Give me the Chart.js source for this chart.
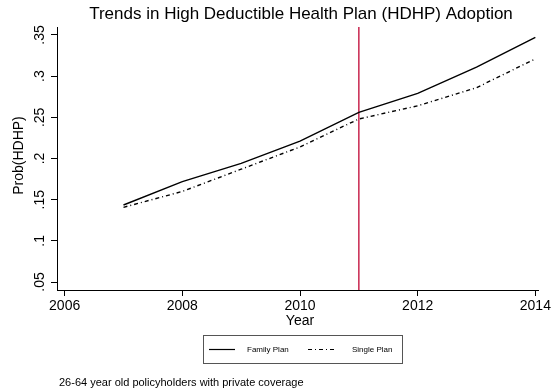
<!DOCTYPE html>
<html>
<head>
<meta charset="utf-8">
<script src="https://cdn.jsdelivr.net/npm/chart.js@4.4.1/dist/chart.umd.min.js"></script>
<style>
  html, body { margin: 0; padding: 0; background: #ffffff; }
  #wrap { width: 553px; height: 392px; }
</style>
</head>
<body>
<div id="wrap"><canvas id="c" width="553" height="392"></canvas></div>
<script>
// Survey years and predicted probability of holding an HDHP
const years = [2007, 2008, 2009, 2010, 2011, 2012, 2013, 2014];
const familyPlan = [0.1435, 0.172, 0.194, 0.221, 0.256, 0.279, 0.311, 0.347];
const singlePlan = [0.1407, 0.160, 0.187, 0.214, 0.248, 0.264, 0.286, 0.321];

// Axis ticks
const xTicks = [2006, 2008, 2010, 2012, 2014];
const yTicks = [0.05, 0.10, 0.15, 0.20, 0.25, 0.30, 0.35];
const yTickLabels = ['.05', '.1', '.15', '.2', '.25', '.3', '.35'];

// Policy change year (vertical reference line)
const policyYear = 2011;

const chartTitle = 'Trends in High Deductible Health Plan (HDHP) Adoption';
const xTitle = 'Year';
const yTitle = 'Prob(HDHP)';
const seriesNames = ['Family Plan', 'Single Plan'];
const note = '26-64 year old policyholders with private coverage';

const FONT = '"Liberation Sans", Arial, Helvetica, sans-serif';
const SINGLE_DASH = [4, 3, 1, 3];

const toPoints = (xs, ys) => xs.map((x, i) => ({ x: x, y: ys[i] }));

const decorations = {
  id: 'decorations',
  beforeDatasetsDraw(chart) {
    const { ctx, chartArea, scales } = chart;
    const px = scales.x.getPixelForValue(policyYear);
    ctx.save();
    ctx.strokeStyle = '#c8264f';
    ctx.lineWidth = 1.5;
    ctx.beginPath();
    ctx.moveTo(px, chartArea.top);
    ctx.lineTo(px, chartArea.bottom);
    ctx.stroke();
    ctx.restore();
  },
  afterDraw(chart) {
    const { ctx, chartArea, scales } = chart;
    ctx.save();
    ctx.fillStyle = '#000';

    // title
    ctx.font = '17px ' + FONT;
    ctx.textAlign = 'center';
    ctx.textBaseline = 'middle';
    ctx.fillText(chartTitle, 301, 14);

    // rotated y tick labels
    ctx.font = '14px ' + FONT;
    scales.y.ticks.forEach((t) => {
      const py = scales.y.getPixelForValue(t.value);
      ctx.save();
      ctx.translate(40, py);
      ctx.rotate(-Math.PI / 2);
      ctx.textAlign = 'center';
      ctx.textBaseline = 'middle';
      ctx.fillText(yTickLabels[yTicks.indexOf(t.value)], 0, 0);
      ctx.restore();
    });

    // y axis title
    ctx.save();
    ctx.translate(19, (chartArea.top + chartArea.bottom) / 2 - 3);
    ctx.rotate(-Math.PI / 2);
    ctx.textAlign = 'center';
    ctx.textBaseline = 'middle';
    ctx.fillText(yTitle, 0, 0);
    ctx.restore();

    // x axis title
    ctx.textAlign = 'center';
    ctx.textBaseline = 'middle';
    ctx.fillText(xTitle, scales.x.getPixelForValue(2010), 321);

    // legend box
    ctx.strokeStyle = '#555';
    ctx.lineWidth = 1;
    ctx.strokeRect(203.5, 335.5, 199, 28);
    const ly = 349.5;
    const ds = chart.data.datasets;
    ctx.strokeStyle = '#000';
    ctx.lineWidth = 1.2;
    ctx.beginPath();
    ctx.setLineDash([]);
    ctx.moveTo(209, ly); ctx.lineTo(235, ly);
    ctx.stroke();
    ctx.beginPath();
    ctx.setLineDash(SINGLE_DASH);
    ctx.moveTo(308, ly); ctx.lineTo(337, ly);
    ctx.stroke();
    ctx.setLineDash([]);
    ctx.font = '8px ' + FONT;
    ctx.textAlign = 'left';
    ctx.fillText(ds[0].label, 247, ly);
    ctx.fillText(ds[1].label, 352, ly);

    // footnote
    ctx.font = '11px ' + FONT;
    ctx.fillText(note, 59, 383);
    ctx.restore();
  }
};

new Chart(document.getElementById('c'), {
  type: 'line',
  data: {
    datasets: [
      {
        label: seriesNames[0],
        data: toPoints(years, familyPlan),
        borderColor: '#000',
        borderWidth: 1.4,
        pointRadius: 0,
        tension: 0,
        fill: false
      },
      {
        label: seriesNames[1],
        data: toPoints(years, singlePlan),
        borderColor: '#000',
        borderWidth: 1.4,
        borderDash: SINGLE_DASH,
        pointRadius: 0,
        tension: 0,
        fill: false
      }
    ]
  },
  options: {
    responsive: false,
    animation: false,
    devicePixelRatio: 1,
    layout: { padding: { top: 27, left: 0, right: 11, bottom: 0 }, autoPadding: false },
    plugins: {
      legend: { display: false },
      title: { display: false },
      tooltip: { enabled: false }
    },
    scales: {
      x: {
        type: 'linear',
        min: 2005.87,
        max: 2014.05,
        afterBuildTicks: (s) => { s.ticks = xTicks.map(v => ({ value: v })); },
        afterFit: (s) => { s.height = 102; },
        grid: { drawOnChartArea: false, drawTicks: true, tickLength: 6, color: '#000', tickColor: '#000' },
        border: { display: true, color: '#000', width: 1 },
        ticks: {
          color: '#000',
          font: { family: FONT, size: 14 },
          padding: 2,
          maxRotation: 0,
          autoSkip: false,
          callback: (v) => String(v)
        }
      },
      y: {
        type: 'linear',
        min: 0.0403,
        max: 0.3597,
        afterBuildTicks: (s) => { s.ticks = yTicks.map(v => ({ value: v })); },
        afterFit: (s) => { s.width = 57; },
        grid: { drawOnChartArea: false, drawTicks: true, tickLength: 6, color: '#000', tickColor: '#000' },
        border: { display: true, color: '#000', width: 1 },
        ticks: { display: false }
      }
    }
  },
  plugins: [decorations]
});
</script>
</body>
</html>
